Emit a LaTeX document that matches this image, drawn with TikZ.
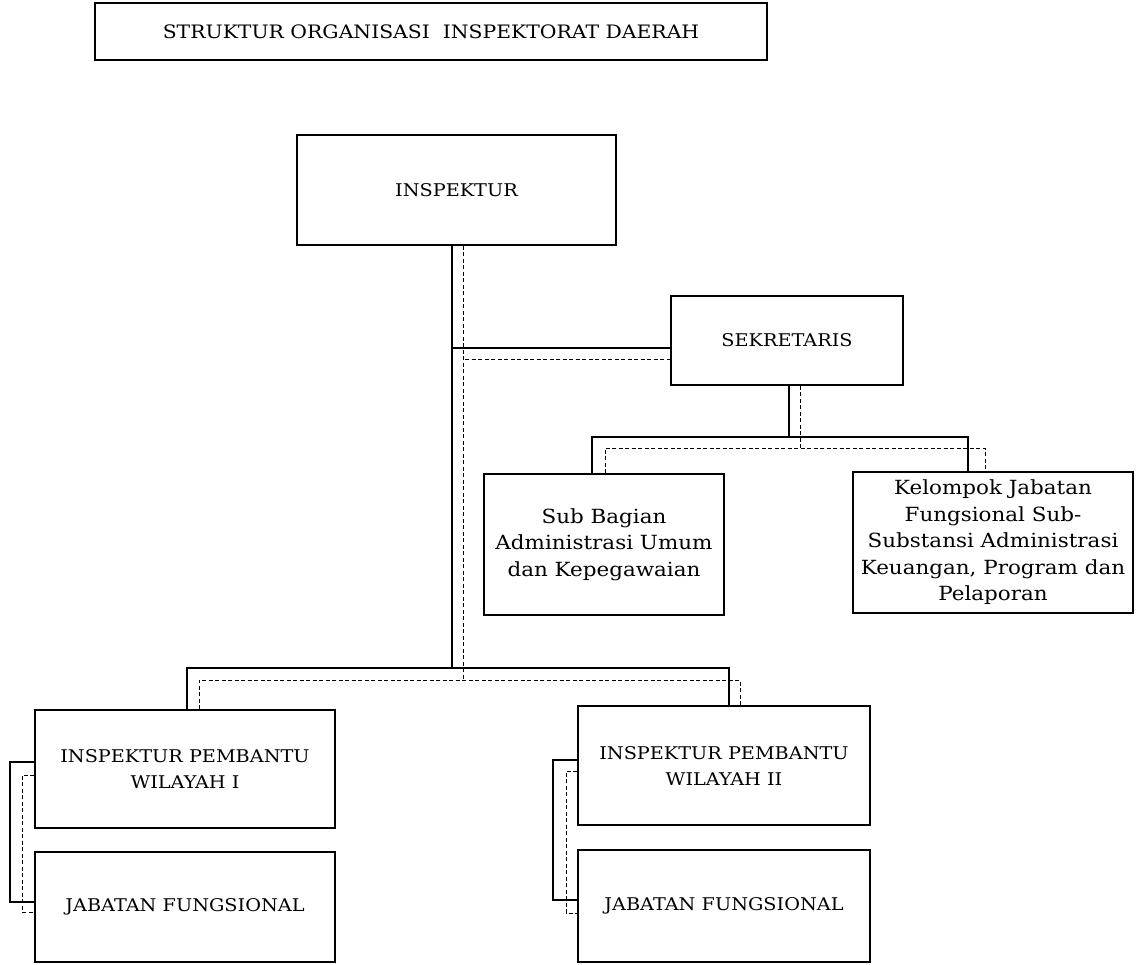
\documentclass[tikz,border=0pt]{standalone}
\usepackage{fontspec}
\setmainfont[FakeStretch=1.1]{DejaVu Serif}

\begin{document}
\begin{tikzpicture}[x=1pt,y=-1pt,
    box/.style={draw, line width=1.3pt, align=center, inner sep=2pt,
        font=\fontsize{17.5}{26}\selectfont},
    lower/.style={font=\fontsize{19.5}{26.5}\selectfont},
    link/.style={line width=1.1pt},
    dlink/.style={line width=0.9pt, dash pattern=on 4pt off 2.5pt}]
    \useasboundingbox (0,0) rectangle (1139,964);

    % boxes
    \node[box, minimum width=672, minimum height=57, font=\fontsize{18.5}{22}\selectfont] (title) at (431,31.5) {STRUKTUR ORGANISASI\ \ INSPEKTORAT DAERAH};
    \node[box, minimum width=319, minimum height=110] (insp) at (456.5,190) {INSPEKTUR};
    \node[box, minimum width=232, minimum height=89] (sekr) at (787,340.5) {SEKRETARIS};
    \node[box, lower, minimum width=240, minimum height=141] (subbag) at (604,544.5) {Sub Bagian\\Administrasi Umum\\dan Kepegawaian};
    \node[box, lower, minimum width=280, minimum height=141] (kel) at (993,542.5) {Kelompok Jabatan\\Fungsional Sub-\\Substansi Administrasi\\Keuangan, Program dan\\Pelaporan};
    \node[box, minimum width=300, minimum height=118] (ipw1) at (185,769) {INSPEKTUR PEMBANTU\\WILAYAH I};
    \node[box, minimum width=300, minimum height=110] (jf1) at (185,907) {JABATAN FUNGSIONAL};
    \node[box, minimum width=292, minimum height=119] (ipw2) at (724,765.5) {INSPEKTUR PEMBANTU\\WILAYAH II};
    \node[box, minimum width=292, minimum height=112] (jf2) at (724,906) {JABATAN FUNGSIONAL};

    % junctions
    \coordinate (sS) at (452,348);
    \coordinate (dS) at (465,359);
    \coordinate (sT) at (452,668);
    \coordinate (dT) at (463,680);
    \coordinate (sL) at (187,668);
    \coordinate (sR) at (729,668);
    \coordinate (dL) at (199,680);
    \coordinate (dR) at (740,680);
    \coordinate (sB) at (789,437);
    \coordinate (sBL) at (592,437);
    \coordinate (sBR) at (968,437);
    \coordinate (dB) at (800,448);
    \coordinate (dBL) at (605,448);
    \coordinate (dBR) at (985,448);
    \coordinate (l1a) at (10,762);
    \coordinate (l1b) at (10,902);
    \coordinate (l1c) at (22,775);
    \coordinate (l1d) at (22,912);
    \coordinate (l2a) at (553,760);
    \coordinate (l2b) at (553,900);
    \coordinate (l2c) at (566,771);
    \coordinate (l2d) at (566,913);

    % inspektur to sekretaris and wilayah
    \draw[link] (insp.south -| sT) -- (sT);
    \draw[dlink] (insp.south -| dT) -- (dT);
    \draw[link] (sS) -- (sekr.west |- sS);
    \draw[dlink] (dS) -- (sekr.west |- dS);
    \draw[link] (ipw1.north -| sL) -- (sL) -- (sR) -- (ipw2.north -| sR);
    \draw[dlink] (ipw1.north -| dL) -- (dL) -- (dR) -- (ipw2.north -| dR);

    % sekretaris to sub bagian and kelompok
    \draw[link] (sekr.south -| sB) -- (sB);
    \draw[dlink] (sekr.south -| dB) -- (dB);
    \draw[link] (subbag.north -| sBL) -- (sBL) -- (sBR) -- (kel.north -| sBR);
    \draw[dlink] (subbag.north -| dBL) -- (dBL) -- (dBR) -- (kel.north -| dBR);

    % jabatan fungsional
    \draw[link] (ipw1.west |- l1a) -- (l1a) -- (l1b) -- (jf1.west |- l1b);
    \draw[dlink] (ipw1.west |- l1c) -- (l1c) -- (l1d) -- (jf1.west |- l1d);
    \draw[link] (ipw2.west |- l2a) -- (l2a) -- (l2b) -- (jf2.west |- l2b);
    \draw[dlink] (ipw2.west |- l2c) -- (l2c) -- (l2d) -- (jf2.west |- l2d);
\end{tikzpicture}
\end{document}
